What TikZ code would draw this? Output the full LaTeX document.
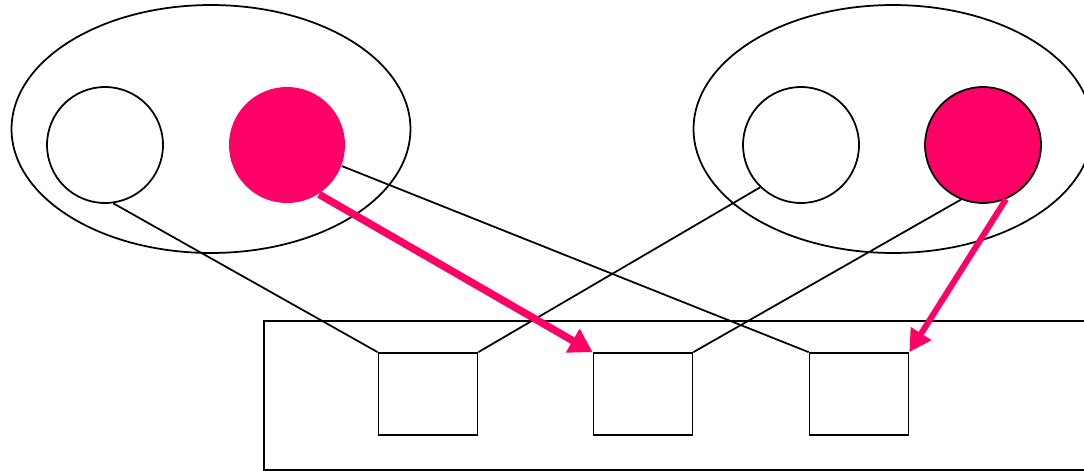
\documentclass[tikz,border=0pt]{standalone}
\usepackage{tikz}
\usetikzlibrary{positioning}
\usetikzlibrary{shapes.geometric}
\usetikzlibrary{arrows.meta}
\definecolor{hotpink}{HTML}{FF0066}

\begin{document}
\begin{tikzpicture}[
    x=0.02cm, y=-0.02cm,
    line width=1pt,
    set/.style={draw, ellipse, minimum width=7.98cm, minimum height=4.96cm, inner sep=0pt},
    ball/.style={draw, circle, minimum size=2.32cm, inner sep=0pt},
    pink ball/.style={ball, fill=hotpink},
    slot/.style={draw, minimum width=1.98cm, minimum height=1.64cm, inner sep=0pt},
    pink arrow/.style={
        draw=hotpink, line width=4.2pt,
        -{Triangle[length=0.46cm, width=0.52cm]}
    }
  ]
  \useasboundingbox (0,0) rectangle (1084,470);
  \clip (0,0) rectangle (1084,470);

  \node[set] (set_l) at (211,129) {};
  \node[set] (set_r) at (893,129) {};

  \node[ball] (ball_lw) at (105,145) {};
  \node[pink ball, draw=none] (ball_lp) at (287,145) {};
  \node[ball] (ball_rw) at (801,145) {};
  \node[pink ball] (ball_rp) at (983,145) {};

  \node[draw, anchor=north west, minimum width=16.8cm, minimum height=2.98cm,
        inner sep=0pt] (tray) at (263,320) {};

  \node[slot] (slot_a) at (428,394) {};
  \node[slot] (slot_b) at (643,394) {};
  \node[slot] (slot_c) at (859,394) {};

  \draw (ball_lw.-82) -- (slot_a.north west);
  \draw (ball_lp.-21) -- (slot_c.north west);
  \draw (ball_rw.-134) -- (slot_a.north east);
  \draw (ball_rp.-112) -- (slot_b.north east);

  \draw[pink arrow] (ball_lp.-57) -- (slot_b.north west);
  \draw[pink arrow, line width=3.4pt, -{Triangle[length=0.44cm, width=0.46cm]}]
    (ball_rp.-67) -- (slot_c.north east);

\end{tikzpicture}
\end{document}
